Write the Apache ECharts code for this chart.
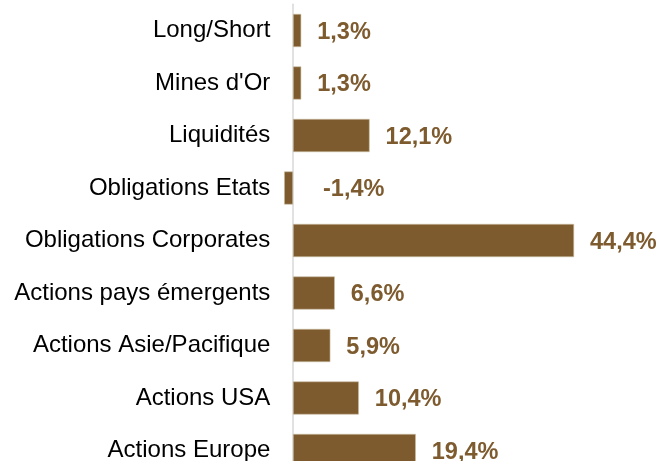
<!DOCTYPE html>
<html>
<head>
<meta charset="utf-8">
<script src="https://cdn.jsdelivr.net/npm/echarts@6/dist/echarts.min.js"></script>
<style>
html,body{margin:0;padding:0;background:#fff;overflow:hidden;}
#chart{width:660px;height:477px;}
</style>
</head>
<body>
<div id="chart"></div>
<script>
// categories top -> bottom
var categories = ["Long/Short", "Mines d'Or", "Liquidités", "Obligations Etats", "Obligations Corporates",
    "Actions pays émergents", "Actions Asie/Pacifique", "Actions USA", "Actions Europe"];
var weights = [1.3, 1.3, 12.1, -1.4, 44.4, 6.6, 5.9, 10.4, 19.4];

var brown = '#7d5b2f';

// the last category runs past the bottom edge, like the original
var chart = echarts.init(document.getElementById('chart'));

var seriesData = weights.map(function (v) {
    return {
        value: v,
        label: { distance: v < 0 ? 30 : 16 }
    };
});

var option = {
    animation: false,
    grid: { left: 261.35, top: 4.25, bottom: 0.25, width: 348.15, containLabel: false },
    xAxis: {
        type: 'value',
        min: -5,
        max: 50,
        show: false
    },
    yAxis: {
        type: 'category',
        inverse: true,
        data: categories,
        axisLine: { show: true, onZero: true, lineStyle: { color: '#d9d9d9', width: 1.5 } },
        axisTick: { show: false },
        axisLabel: {
            margin: -9,
            color: '#000',
            fontFamily: 'Liberation Sans, Arial',
            fontSize: 24
        }
    },
    series: [{
        type: 'bar',
        data: seriesData,
        barCategoryGap: '37%',
        itemStyle: { color: brown, borderColor: '#cbbd9f', borderWidth: 0.6 },
        label: {
            show: true,
            position: 'right',
            color: brown,
            fontWeight: 'bold',
            fontFamily: 'Liberation Sans, Arial',
            fontSize: 23.5,
            offset: [0, 2],
            formatter: function (p) {
                return p.value.toFixed(1).replace('.', ',') + '%';
            }
        }
    }]
};
chart.setOption(option);
</script>
</body>
</html>
